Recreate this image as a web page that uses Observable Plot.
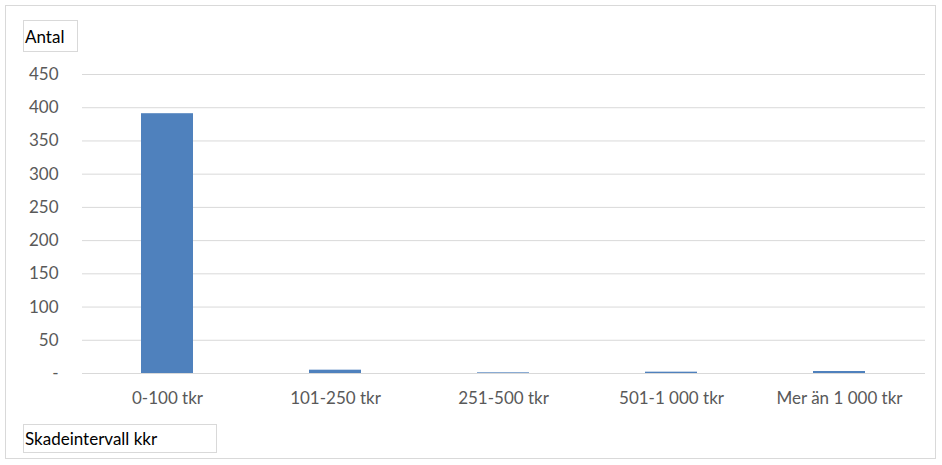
<!DOCTYPE html>
<html><head><meta charset="utf-8">
<script src="https://cdn.jsdelivr.net/npm/d3@7"></script>
<script src="https://cdn.jsdelivr.net/npm/@observablehq/plot@0.6"></script>
<style>
html,body{margin:0;padding:0;background:#fff;}
#wrap{position:relative;width:942px;height:465px;overflow:hidden;font-family:Lato,"Liberation Sans",sans-serif;}
#frame{position:absolute;left:5px;top:5px;width:931px;height:454px;border:1px solid #d9d9d9;box-sizing:border-box;}
.lbl{position:absolute;border:1px solid #d9d9d9;background:#fff;color:#000;font-size:17px;padding:0 1px;box-sizing:border-box;}
#chart{position:absolute;left:0;top:0;}
</style></head>
<body><div id="wrap"><div id="frame"></div><div id="chart"></div>
<div class="lbl" style="left:23px;top:20px;width:55px;height:32px;line-height:31px;">Antal</div>
<div class="lbl" style="left:23px;top:424px;width:194px;height:29px;line-height:27px;">Skadeintervall kkr</div>
</div>
<script>
const categories = ["0-100 tkr", "101-250 tkr", "251-500 tkr", "501-1 000 tkr", "Mer än 1 000 tkr"];
const counts = [391, 5, 1, 2, 3];
const yTicks = [0, 50, 100, 150, 200, 250, 300, 350, 400, 450];

const data = categories.map((c, i) => ({category: c, count: counts[i]}));

const plot = Plot.plot({
  width: 942,
  height: 465,
  marginLeft: 82,
  marginRight: 17,
  marginTop: 74,
  marginBottom: 92,
  style: {fontFamily: "Lato, 'Liberation Sans', sans-serif", fontSize: "17px", color: "#595959", background: "transparent"},
  x: {domain: categories, paddingInner: 0.69, paddingOuter: 0.345, label: null},
  y: {domain: [0, 450], label: null},
  marks: [
    Plot.ruleY(yTicks, {stroke: "#d9d9d9", strokeWidth: 1}),
    Plot.barY(data, {x: "category", y: "count", fill: "#4f81bd"}),
    Plot.axisY(yTicks, {tickSize: 0, tickPadding: 24, tickFormat: d => d === 0 ? "-" : String(d), label: null, fontSize: 17, fill: "#595959"}),
    Plot.axisX({tickSize: 0, tickPadding: 18, label: null, fontSize: 17, fill: "#595959"})
  ]
});
document.getElementById("chart").appendChild(plot);
</script>
</body></html>
